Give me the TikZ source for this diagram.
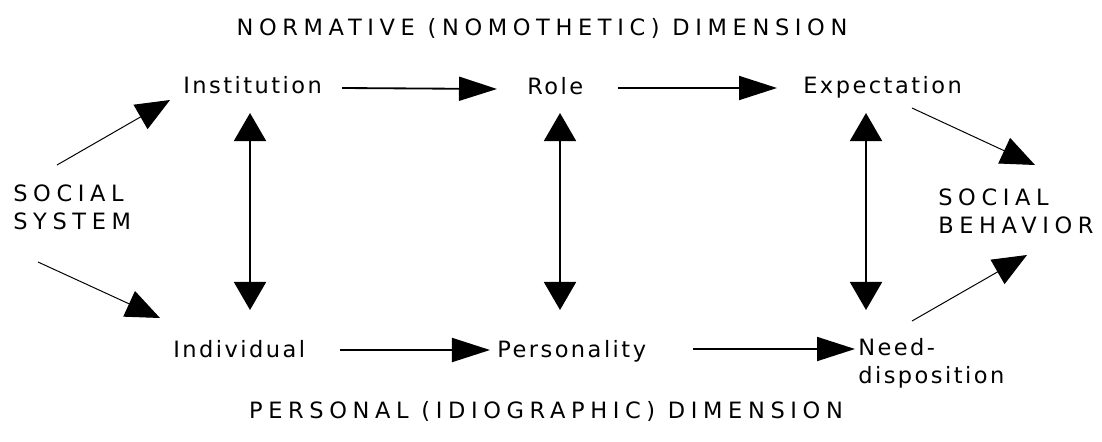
\documentclass[tikz,border=0pt]{standalone}
\usepackage{fontspec}
\usepackage{tikz}
\usetikzlibrary{arrows.meta}
\newfontfamily\sbwordfont[LetterSpace=11]{DejaVu Sans}
\newfontfamily\sbcapfont[LetterSpace=25]{DejaVu Sans}
\definecolor{sbInk}{HTML}{000000}
\tikzset{
  sbword/.style={
    inner sep=0pt,
    anchor=base west,
    text=sbInk,
    align=left,
    font=\sbwordfont\fontsize{16pt}{20pt}\selectfont
  },
  sbcap/.style={
    inner sep=0pt,
    text=sbInk,
    align=left,
    font=\sbcapfont\fontsize{16pt}{19.5pt}\selectfont
  },
  sbflow/.style={-{Triangle[length=0.95cm,width=0.6cm]}, line width=1.3pt, draw=sbInk},
  sblink/.style={{Triangle[length=0.7cm,width=0.8cm]}-{Triangle[length=0.7cm,width=0.8cm]}, line width=1.3pt, draw=sbInk},
  sbfeed/.style={-{Triangle[length=0.85cm,width=0.7cm]}, line width=0.7pt, draw=sbInk}
}

\begin{document}
\begin{tikzpicture}[x=0.025cm, y=-0.025cm]
  \useasboundingbox (0,0) rectangle (1102,441);

  \node[sbcap, anchor=base] (normttl) at (542,35) {NORMATIVE (NOMOTHETIC) DIMENSION};
  \node[sbcap, anchor=base] (persttl) at (546,418) {PERSONAL (IDIOGRAPHIC) DIMENSION};

  \node[sbcap, anchor=north west] (socsys) at (13,185) {SOCIAL\\SYSTEM};
  \node[sbcap, anchor=north west] (socbeh) at (938,189) {SOCIAL\\BEHAVIOR};

  \node[sbword] (inst) at (183,93) {Institution};
  \node[sbword] (role) at (527,94) {Role};
  \node[sbword] (expect) at (803,93) {Expectation};
  \node[sbword] (indiv) at (173,357) {Individual};
  \node[sbword] (person) at (497,357) {Personality};
  \node[sbword, anchor=north west] (needdisp) at (858,338) {Need-\\disposition};

  \draw[sbflow] ([shift={(20,-5)}]inst.base east) -- ([shift={(-30,-5)}]role.base west);
  \draw[sbflow] ([shift={(35,-6)}]role.base east) -- ([shift={(-26,-5)}]expect.base west);
  \draw[sbflow] ([shift={(35,-7)}]indiv.base east) -- ([shift={(-7,-7)}]person.base west);
  \draw[sbflow] ([shift={(47,-8)}]person.base east) -- ([shift={(-3,11)}]needdisp.north west);

  \draw[sblink] ([shift={(67,20)}]inst.base west) -- ([shift={(77,-47)}]indiv.base west);
  \draw[sblink] ([shift={(33,19)}]role.base west) -- ([shift={(63,-47)}]person.base west);
  \draw[sblink] ([shift={(63,20)}]expect.base west) -- ([shift={(8,-28)}]needdisp.north west);

  \draw[sbfeed] ([shift={(44,-20)}]socsys.north west) -- ([shift={(-13,7)}]inst.base west);
  \draw[sbfeed] ([shift={(25,77)}]socsys.north west) -- ([shift={(-13,-39)}]indiv.base west);
  \draw[sbfeed] ([shift={(109,15)}]expect.base west) -- ([shift={(97,-24)}]socbeh.north west);
  \draw[sbfeed] ([shift={(54,-17)}]needdisp.north west) -- ([shift={(89,66)}]socbeh.north west);
\end{tikzpicture}
\end{document}
